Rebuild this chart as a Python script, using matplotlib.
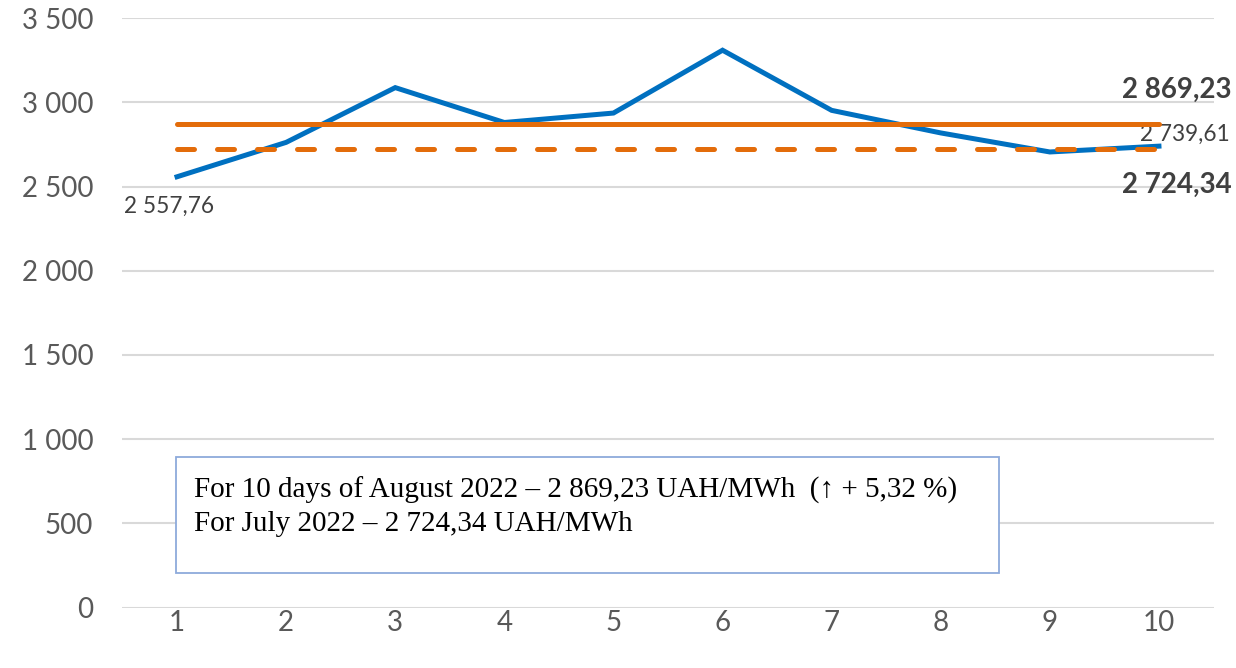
import matplotlib

matplotlib.use("Agg")
import matplotlib.pyplot as plt
from matplotlib.patches import Rectangle
from matplotlib.ticker import FuncFormatter, MultipleLocator

# daily prices, first 10 days of August 2022 (UAH/MWh)
DAYS = [1, 2, 3, 4, 5, 6, 7, 8, 9, 10]
PRICE = [2557.76, 2762, 3087, 2880, 2936, 3309, 2952, 2818, 2705, 2739.61]
AUG_AVG = 2869.23
JULY_AVG = 2724.34

NOTE_LINES = [
    "For 10 days of August 2022 \u2013 2 869,23 UAH/MWh  (\u2191 + 5,32 %)",
    "For July 2022 \u2013 2 724,34 UAH/MWh",
]

BLUE = "#0070C0"
ORANGE = "#E36C0A"
GRID = "#D9D9D9"
TICK_GREY = "#595959"
LABEL_GREY = "#404040"
SANS = ["Lato", "DejaVu Sans"]
SERIF = ["Liberation Serif", "DejaVu Serif"]


def fmt_num(v, decimals=0):
    s = "{:,.{}f}".format(v, decimals)
    return s.replace(",", " ").replace(".", ",")


fig = plt.figure(figsize=(12.36, 6.68), dpi=100)
ax = fig.add_axes([0.0991, 0.0903, 0.8827, 0.8827])

ax.plot(DAYS, PRICE, color=BLUE, lw=3.6, solid_joinstyle="miter", zorder=3)
ax.plot(DAYS, [AUG_AVG] * len(DAYS), color=ORANGE, lw=3.6, solid_capstyle="round", zorder=4)
ax.plot(DAYS, [JULY_AVG] * len(DAYS), color=ORANGE, lw=3.6, dashes=(3.4, 4.6),
        dash_capstyle="round", zorder=4)

ax.set_xlim(0.5, 10.5)
ax.set_ylim(0, 3500)
ax.yaxis.set_major_locator(MultipleLocator(500))
ax.yaxis.set_major_formatter(FuncFormatter(lambda v, _: fmt_num(v)))
ax.set_xticks(DAYS)
ax.grid(axis="y", color=GRID, lw=1.5, zorder=0)
ax.set_axisbelow(True)
for sp in ax.spines.values():
    sp.set_visible(False)
ax.tick_params(length=0, colors=TICK_GREY, labelsize=20)
ax.tick_params(axis="y", pad=21)
ax.tick_params(axis="x", pad=2)
for lab in ax.get_xticklabels() + ax.get_yticklabels():
    lab.set_family(SANS)

# data labels
ax.annotate(fmt_num(PRICE[0], 2), (DAYS[0], PRICE[0]), xytext=(-8, -30),
            textcoords="offset pixels", ha="center", va="center",
            fontsize=16.3, color=LABEL_GREY, family=SANS)
ax.annotate(fmt_num(PRICE[-1], 2), (DAYS[-1], PRICE[-1]), xytext=(26, 12),
            textcoords="offset pixels", ha="center", va="center",
            fontsize=16.3, color=LABEL_GREY, family=SANS)
ax.annotate(fmt_num(AUG_AVG, 2), (DAYS[-1], AUG_AVG), xytext=(73, 34),
            textcoords="offset pixels", ha="right", va="center",
            fontsize=20, fontweight="bold", color=LABEL_GREY, family=SANS)
ax.annotate(fmt_num(JULY_AVG, 2), (DAYS[-1], JULY_AVG), xytext=(73, -36),
            textcoords="offset pixels", ha="right", va="center",
            fontsize=20, fontweight="bold", color=LABEL_GREY, family=SANS)

# note box
box = Rectangle((176 / 1236, 1 - 573 / 668), (999 - 176) / 1236, (573 - 457) / 668,
                transform=fig.transFigure, facecolor="white", edgecolor="#8EAADB",
                lw=1.3, zorder=5)
fig.add_artist(box)
for i, line in enumerate(NOTE_LINES):
    fig.text(194 / 1236, 1 - (490 + 34 * i) / 668, line, ha="left", va="center",
             fontsize=21, family=SERIF, color="black", zorder=6)

fig.savefig("out.png", dpi=100)
